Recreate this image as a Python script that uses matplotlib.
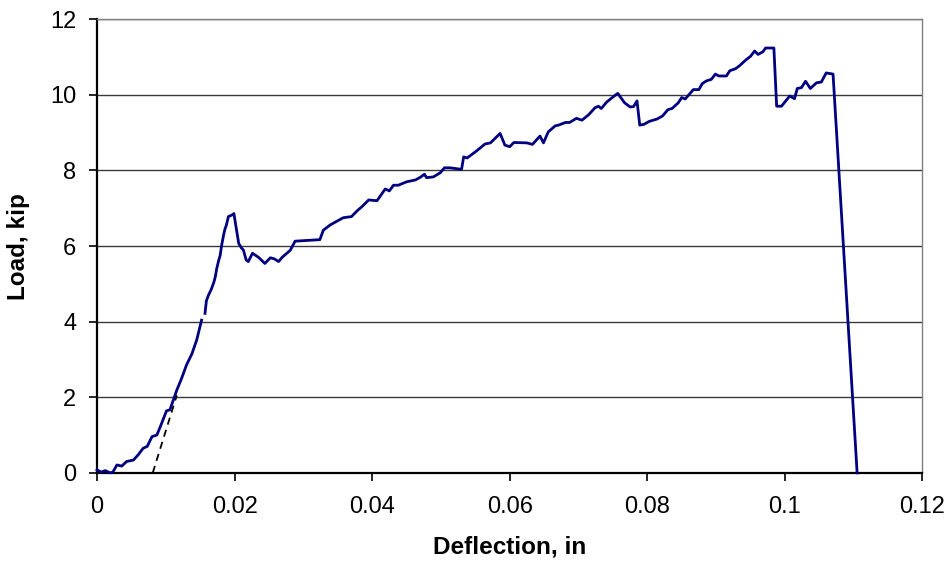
import numpy as np
import matplotlib
matplotlib.use("Agg")
import matplotlib.pyplot as plt

# Load-deflection record (deflection in inches, load in kip)
deflection = [
    0.0000, 0.0006, 0.0012, 0.0019, 0.0023, 0.0029, 0.0036, 0.0043, 0.0053, 0.0060,
    0.0067, 0.0073, 0.0080, 0.0087, 0.0092, 0.0101, 0.0106, 0.0116, 0.0123, 0.0130,
    0.0138, 0.0145, 0.0152, np.nan, 0.0157, 0.0159, 0.0162, 0.0166, 0.0170, 0.0172,
    0.0174, 0.0177, 0.0179, 0.0181, 0.0184, 0.0186, 0.0188, 0.0191, 0.0196, 0.0199,
    0.0203, 0.0206, 0.0210, 0.0213, 0.0215, 0.0217, 0.0220, 0.0226, 0.0235, 0.0244,
    0.0252, 0.0258, 0.0264, 0.0269, 0.0281, 0.0288, 0.0324, 0.0329, 0.0339, 0.0358,
    0.0370, 0.0378, 0.0385, 0.0395, 0.0407, 0.0419, 0.0425, 0.0431, 0.0438, 0.0450,
    0.0463, 0.0470, 0.0476, 0.0479, 0.0489, 0.0499, 0.0505, 0.0513, 0.0530, 0.0533,
    0.0538, 0.0552, 0.0564, 0.0572, 0.0586, 0.0593, 0.0600, 0.0606, 0.0625, 0.0633,
    0.0644, 0.0649, 0.0656, 0.0666, 0.0671, 0.0681, 0.0687, 0.0697, 0.0705, 0.0715,
    0.0724, 0.0729, 0.0733, 0.0741, 0.0749, 0.0757, 0.0767, 0.0775, 0.0780, 0.0785,
    0.0789, 0.0795, 0.0803, 0.0814, 0.0822, 0.0830, 0.0836, 0.0845, 0.0850, 0.0855,
    0.0867, 0.0875, 0.0880, 0.0886, 0.0893, 0.0899, 0.0904, 0.0915, 0.0920, 0.0928,
    0.0934, 0.0943, 0.0950, 0.0956, 0.0961, 0.0968, 0.0972, 0.0984, 0.0988, 0.0995,
    0.1007, 0.1014, 0.1018, 0.1024, 0.1030, 0.1037, 0.1046, 0.1053, 0.1060, 0.1070,
    0.1105,
]
load = [
    0.08, 0.02, 0.06, 0.00, 0.02, 0.21, 0.18, 0.30, 0.34, 0.48,
    0.65, 0.70, 0.96, 1.00, 1.22, 1.64, 1.67, 2.19, 2.50, 2.85,
    3.15, 3.52, 4.04, np.nan, 4.22, 4.55, 4.70, 4.85, 5.05, 5.19,
    5.40, 5.63, 5.75, 6.00, 6.29, 6.45, 6.55, 6.78, 6.82, 6.86,
    6.40, 6.07, 5.95, 5.89, 5.75, 5.63, 5.59, 5.81, 5.70, 5.54,
    5.69, 5.66, 5.59, 5.70, 5.89, 6.13, 6.17, 6.42, 6.56, 6.75,
    6.78, 6.93, 7.04, 7.22, 7.20, 7.51, 7.46, 7.61, 7.61, 7.70,
    7.75, 7.82, 7.90, 7.81, 7.83, 7.94, 8.07, 8.07, 8.03, 8.36,
    8.33, 8.52, 8.70, 8.73, 8.98, 8.67, 8.63, 8.74, 8.73, 8.69,
    8.91, 8.73, 9.02, 9.18, 9.20, 9.27, 9.27, 9.38, 9.33, 9.48,
    9.66, 9.70, 9.64, 9.81, 9.93, 10.04, 9.79, 9.68, 9.69, 9.84,
    9.20, 9.22, 9.30, 9.36, 9.44, 9.61, 9.64, 9.79, 9.93, 9.89,
    10.14, 10.14, 10.30, 10.37, 10.41, 10.55, 10.50, 10.50, 10.64, 10.69,
    10.77, 10.92, 11.02, 11.16, 11.07, 11.14, 11.24, 11.24, 9.70, 9.70,
    9.97, 9.90, 10.17, 10.19, 10.36, 10.17, 10.32, 10.34, 10.58, 10.55,
    0.00,
]

# Offset line through the initial stiffness
offset_x = [0.0081, 0.0116]
offset_y = [0.00, 2.05]

x_ticks = [0, 0.02, 0.04, 0.06, 0.08, 0.1, 0.12]
x_tick_labels = ["0", "0.02", "0.04", "0.06", "0.08", "0.1", "0.12"]
y_ticks = [0, 2, 4, 6, 8, 10, 12]

plt.rcParams["font.family"] = ["Liberation Sans", "DejaVu Sans"]

fig = plt.figure(figsize=(9.51, 5.67), dpi=100)
ax = fig.add_axes([0.102, 0.166, 0.868, 0.800])

ax.set_xlim(0, 0.12)
ax.set_ylim(0, 12)

for y in y_ticks[1:]:
    ax.axhline(y, color="#3a3a3a", lw=1.0, zorder=1)

ax.plot(deflection, load, color="#000080", lw=2.0, zorder=3, clip_on=False,
        solid_joinstyle="round")
ax.plot(offset_x, offset_y, color="black", lw=1.3, ls=(0, (4, 3)), zorder=2)

ax.set_xticks(x_ticks)
ax.set_xticklabels(x_tick_labels)
ax.set_yticks(y_ticks)

ax.tick_params(axis="both", direction="out", length=6, width=1.2,
               labelsize=17, color="black")
ax.tick_params(axis="x", pad=11)
ax.tick_params(axis="y", pad=9)

for side in ("left", "bottom"):
    ax.spines[side].set_color("black")
    ax.spines[side].set_linewidth(1.6)
for side in ("top", "right"):
    ax.spines[side].set_color("#808080")
    ax.spines[side].set_linewidth(1.0)

ax.set_xlabel("Deflection, in", fontsize=17.5, fontweight="bold", labelpad=12)
ax.set_ylabel("Load, kip", fontsize=17.5, fontweight="bold", labelpad=14)

fig.savefig("out.png", dpi=100)
